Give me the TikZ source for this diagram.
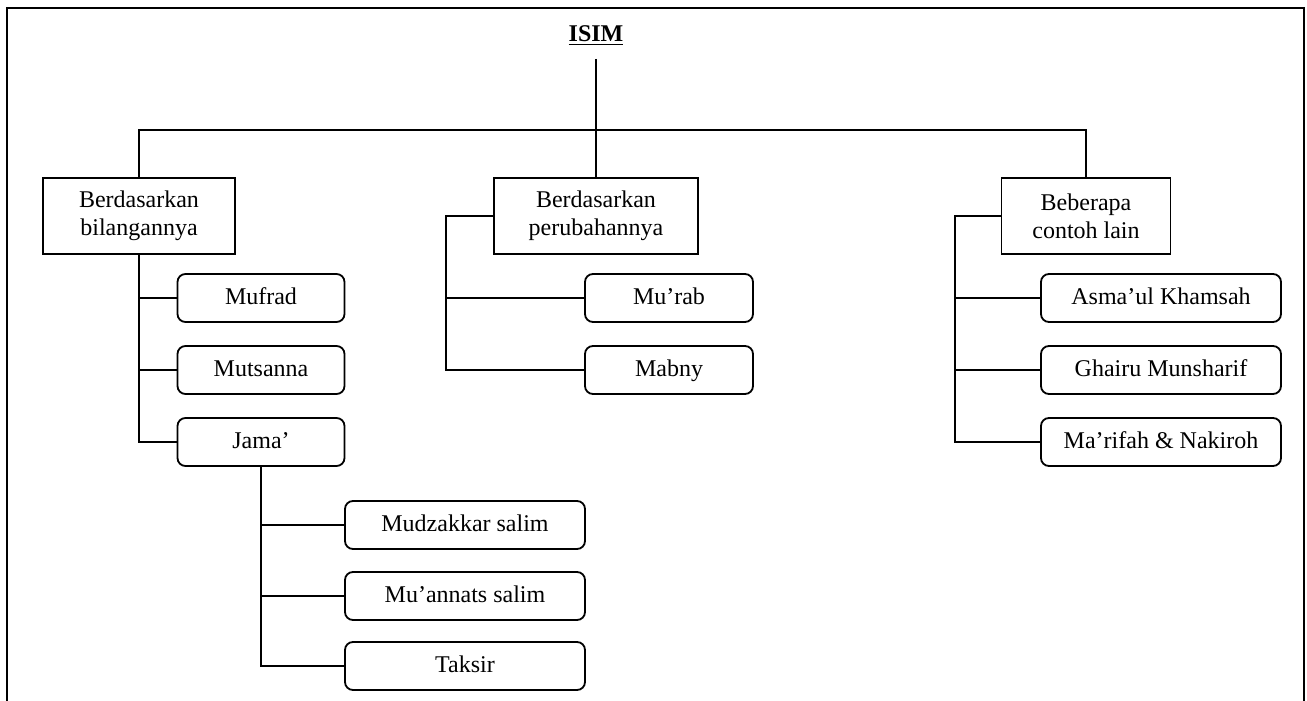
\documentclass[tikz,border=0pt]{standalone}
\usepackage{fontspec}
\setmainfont{Liberation Serif}
\begin{document}
\begin{tikzpicture}[x=0.5pt,y=-0.5pt,line width=0.9pt,font=\fontsize{12}{13.8}\selectfont,
kotak/.style={draw,align=center,minimum height=38pt,inner sep=2pt},
anak/.style={draw,rounded corners=4pt,minimum height=24pt,inner sep=2pt,text height=8.5pt,text depth=2.5pt}]
\useasboundingbox (0,0) rectangle (1307,701);
\draw (7,701) -- (7,8) -- (1304,8) -- (1304,701);

\node[font=\fontsize{12}{13.8}\selectfont\bfseries,inner sep=6pt] (isim) at (596,36) {\underline{ISIM}};
\node[kotak,minimum width=96pt] (bil) at (139,216) {Berdasarkan\\bilangannya};
\node[kotak,minimum width=102pt] (ubah) at (596,216) {Berdasarkan\\perubahannya};
\node[kotak,minimum width=84.5pt] (lain) at (1086,216) {Beberapa\\contoh lain};
\coordinate (bus) at (596,130);
\coordinate (ubahsiku) at (446,216);
\coordinate (lainsiku) at (955,216);

\draw (isim.south) -- (ubah.north);
\draw (bil.north) |- (bus) -| (lain.north);

\foreach \nm/\y/\t in {mufrad/298/Mufrad,mutsanna/370/Mutsanna,jama/442/Jama’}
{\node[anak,minimum width=83.5pt] (\nm) at (261,\y) {\t};
\draw (bil.south) |- (\nm.west);}

\foreach \nm/\y/\t in {mudz/525/Mudzakkar salim,muannats/596/Mu’annats salim,taksir/666/Taksir}
{\node[anak,minimum width=120pt] (\nm) at (465,\y) {\t};
\draw (jama.south) |- (\nm.west);}

\foreach \nm/\y/\t in {murab/298/Mu’rab,mabny/370/Mabny}
{\node[anak,minimum width=84pt] (\nm) at (669,\y) {\t};
\draw (ubah.west) -- (ubahsiku) |- (\nm.west);}

\foreach \nm/\y/\t in {asma/298/Asma’ul Khamsah,ghairu/370/Ghairu Munsharif,marifah/442/Ma’rifah \& Nakiroh}
{\node[anak,minimum width=120pt] (\nm) at (1161,\y) {\t};
\draw (lain.west) -- (lainsiku) |- (\nm.west);}
\end{tikzpicture}
\end{document}
